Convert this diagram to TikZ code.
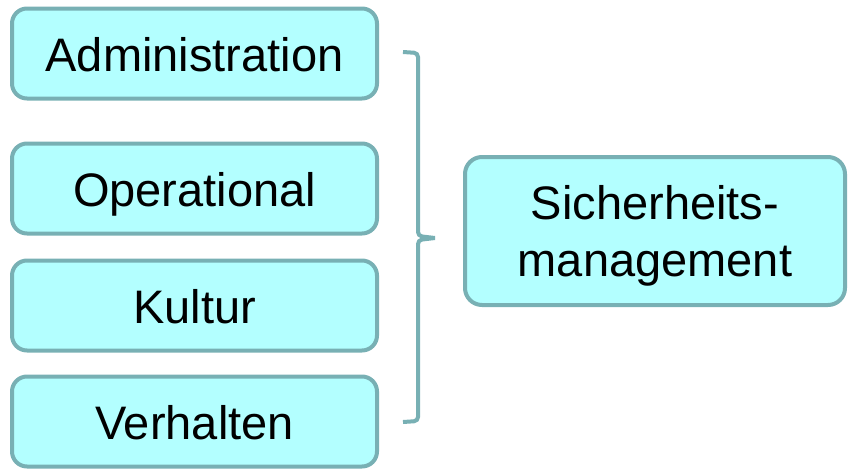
\documentclass[tikz,border=0pt]{standalone}
\usepackage{fontspec}
\setmainfont{Liberation Sans}
\definecolor{boxline}{RGB}{120,176,180}
\definecolor{boxfill}{RGB}{179,255,255}
\tikzset{
  itembox/.style={draw=boxline, fill=boxfill, line width=4pt, rounded corners=15pt,
    minimum width=365pt, minimum height=90pt, inner sep=0pt,
    font=\fontsize{47}{57}\selectfont, text height=36pt, text depth=1pt},
  mainbox/.style={draw=boxline, fill=boxfill, line width=4pt, rounded corners=17pt,
    minimum width=380pt, minimum height=148pt, inner sep=0pt, align=center,
    font=\fontsize{47}{57}\selectfont, text depth=0pt},
  bracket/.style={draw=boxline, line width=4pt}
}
\begin{document}
\begin{tikzpicture}[x=1pt,y=-1pt]
\useasboundingbox (0,0) rectangle (848,469);
\node[itembox] (adm) at (194.5,53.5) {Administration};
\node[itembox] (ope) at (194.5,188.5) {Operational};
\node[itembox] (kul) at (194.5,305.5) {Kultur};
\node[itembox] (ver) at (194.5,421.5) {Verhalten};
\node[mainbox] (sich) at (655,231) {Sicherheits-\\management};
\coordinate (btop) at (403,52);
\coordinate (bmid) at (435,238);
\coordinate (bbot) at (403,422);
\draw[bracket, rounded corners=4pt] (btop) -- (418,53) -- (418,236) -- (bmid);
\draw[bracket, rounded corners=4pt] (bmid) -- (418,240) -- (418,421) -- (bbot);
\end{tikzpicture}
\end{document}
